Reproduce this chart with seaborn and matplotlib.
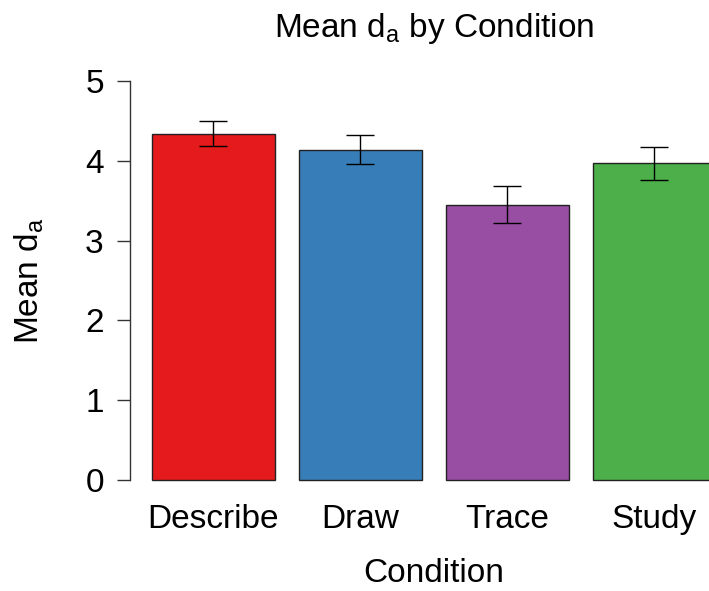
import matplotlib
matplotlib.use("Agg")
import matplotlib.pyplot as plt
import seaborn as sns
import pandas as pd

conditions = ["Describe", "Draw", "Trace", "Study"]
mean_da = [4.34, 4.14, 3.45, 3.97]
ci_low = [4.19, 3.96, 3.22, 3.76]
ci_high = [4.50, 4.32, 3.69, 4.17]
bar_colors = ["#E41A1C", "#377EB8", "#984EA3", "#4DAF4A"]
y_ticks = [0, 1, 2, 3, 4, 5]

sns.set_theme(style="white")
plt.rcParams["font.family"] = ["Liberation Sans", "DejaVu Sans"]
plt.rcParams["mathtext.fontset"] = "custom"
plt.rcParams["mathtext.rm"] = "Liberation Sans"
plt.rcParams["text.color"] = "black"
plt.rcParams["axes.labelcolor"] = "black"
plt.rcParams["xtick.color"] = "black"
plt.rcParams["ytick.color"] = "black"

df = pd.DataFrame({"Condition": conditions, "Mean": mean_da})

W, H = 709, 591
fig = plt.figure(figsize=(W / 100, H / 100), dpi=100)
left_px, right_px, top_px, bottom_px = 129.5, 738.0, 65.0, 496.0
ax = fig.add_axes([left_px / W, 1 - bottom_px / H,
                   (right_px - left_px) / W, (bottom_px - top_px) / H])

sns.barplot(data=df, x="Condition", y="Mean", hue="Condition",
            palette=bar_colors, saturation=1, width=1 / 1.2,
            edgecolor="#222222", linewidth=1.0, errorbar=None,
            legend=False, ax=ax)

xs = list(range(len(conditions)))
lower = [m - lo for m, lo in zip(mean_da, ci_low)]
upper = [hi - m for m, hi in zip(mean_da, ci_high)]
ax.errorbar(xs, mean_da, yerr=[lower, upper], fmt="none", ecolor="black",
            elinewidth=1.0, capsize=10, capthick=1.0)

ax.set_xlim(-0.571, 3.568)
ax.set_ylim(-0.2, 5.2)
ax.set_yticks(y_ticks)
ax.set_yticklabels([str(t) for t in y_ticks])

for s in ["top", "right", "bottom"]:
    ax.spines[s].set_visible(False)
ax.spines["left"].set_bounds(0, 5)
ax.spines["left"].set_color("#333333")
ax.spines["left"].set_linewidth(1.0)

ax.tick_params(axis="y", left=True, length=9.5, width=1.0, color="#333333",
               labelsize=24, pad=9)
ax.tick_params(axis="x", bottom=False, length=0, labelsize=24, pad=6)

ax.set_title(r"Mean $\mathregular{d_a}$ by Condition", fontsize=24, pad=20)
ax.set_xlabel("Condition", fontsize=24, labelpad=16)
ax.set_ylabel(r"Mean $\mathregular{d_a}$", fontsize=24, labelpad=28)
ax.xaxis.label.set_x((433.75 - left_px) / (right_px - left_px))

fig.savefig("out.png", dpi=100)
